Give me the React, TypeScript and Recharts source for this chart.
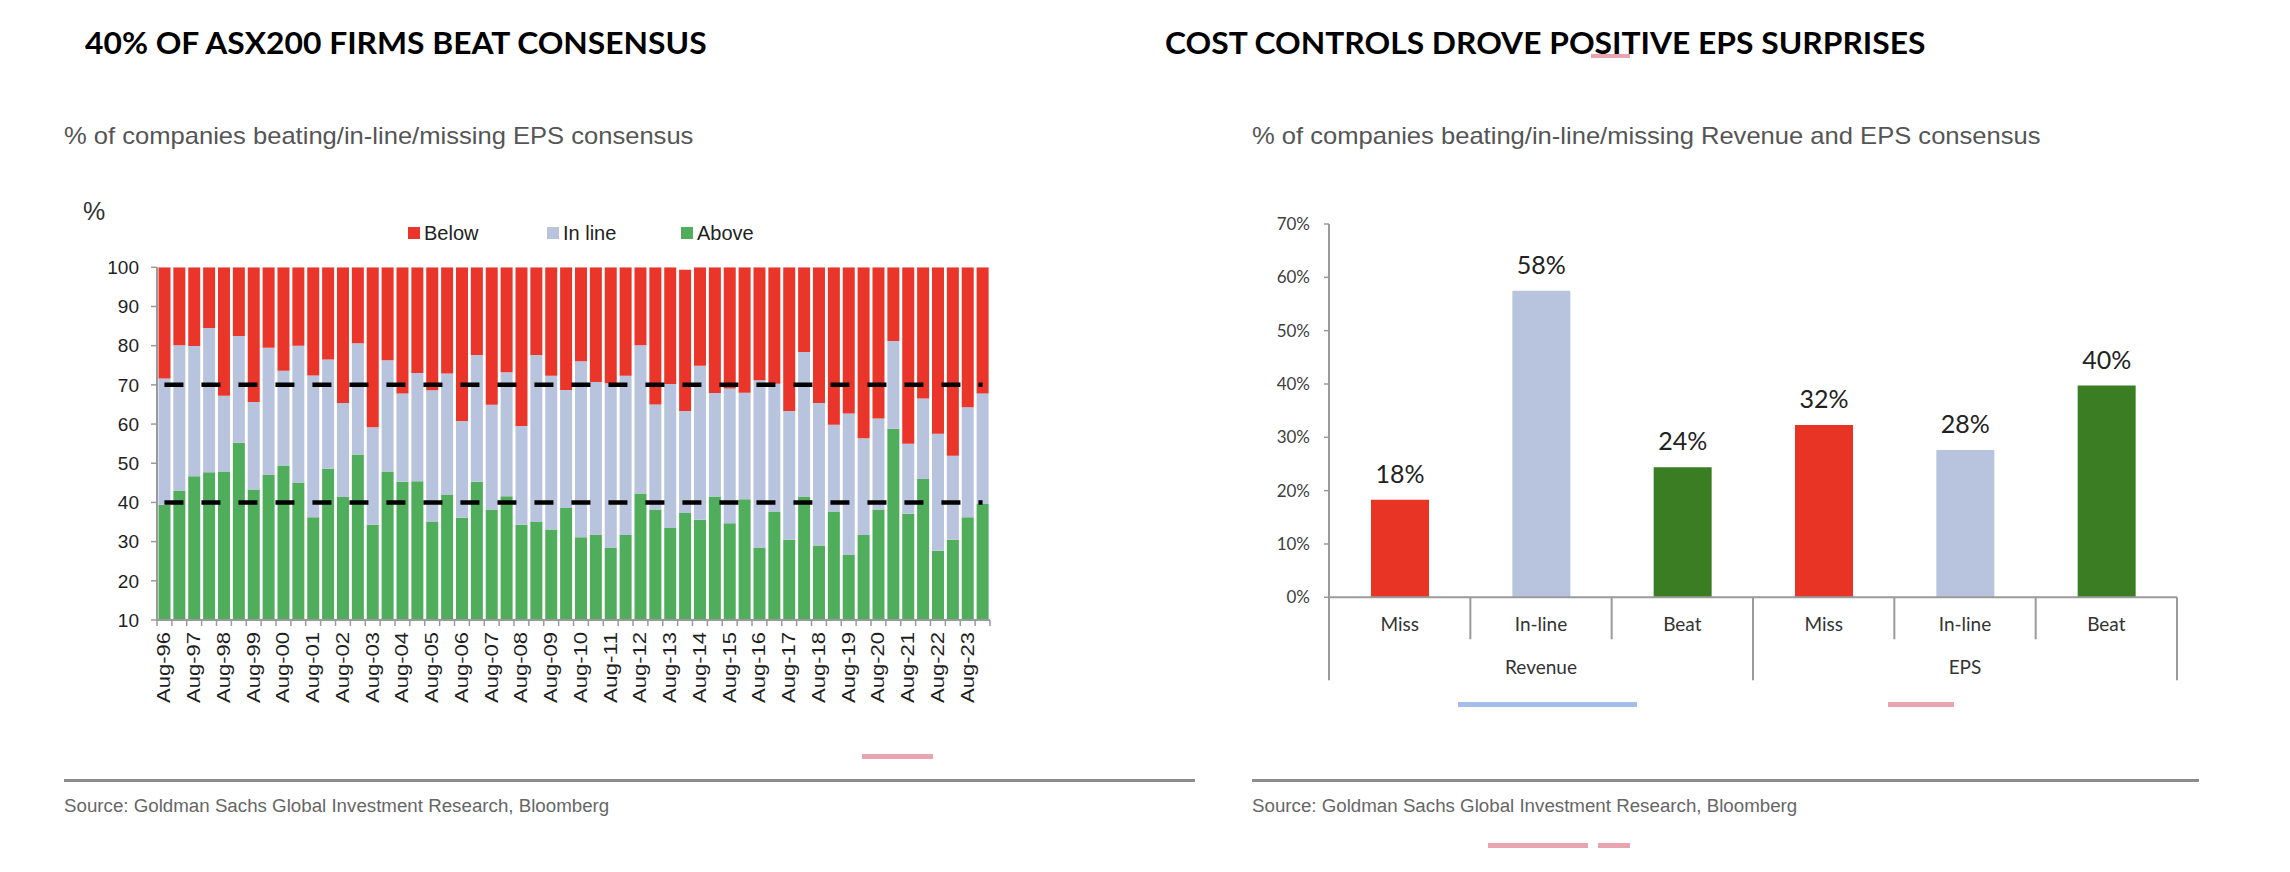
import React from "react";
import { BarChart, Bar, XAxis, YAxis, ReferenceLine, Cell, LabelList } from "recharts";

// reporting seasons, Aug-96 .. Feb-24
const periods = [
  "Aug-96", "Feb-97", "Aug-97", "Feb-98", "Aug-98", "Feb-99", "Aug-99", "Feb-00",
  "Aug-00", "Feb-01", "Aug-01", "Feb-02", "Aug-02", "Feb-03", "Aug-03", "Feb-04",
  "Aug-04", "Feb-05", "Aug-05", "Feb-06", "Aug-06", "Feb-07", "Aug-07", "Feb-08",
  "Aug-08", "Feb-09", "Aug-09", "Feb-10", "Aug-10", "Feb-11", "Aug-11", "Feb-12",
  "Aug-12", "Feb-13", "Aug-13", "Feb-14", "Aug-14", "Feb-15", "Aug-15", "Feb-16",
  "Aug-16", "Feb-17", "Aug-17", "Feb-18", "Aug-18", "Feb-19", "Aug-19", "Feb-20",
  "Aug-20", "Feb-21", "Aug-21", "Feb-22", "Aug-22", "Feb-23", "Aug-23", "Feb-24",
];

// % of companies above consensus
const aboveShare = [
  39.4, 42.9, 46.7, 47.7, 47.9, 55.2, 43.3, 47.0, 49.4, 45.1, 36.2, 48.6, 41.4, 52.2,
  34.3, 47.9, 45.3, 45.4, 35.0, 42.0, 36.1, 45.3, 38.2, 41.6, 34.3, 35.0, 33.1, 38.6,
  31.1, 31.7, 28.5, 31.7, 42.3, 38.2, 33.5, 37.3, 35.6, 41.5, 34.7, 40.8, 28.5, 37.7,
  30.5, 41.5, 29.0, 37.7, 26.6, 31.7, 38.2, 58.8, 37.1, 46.0, 27.7, 30.5, 36.2, 39.6,
];

// % in line with consensus
const inLineShare = [
  32.2, 37.2, 33.2, 36.8, 19.3, 27.3, 22.3, 32.5, 24.2, 34.9, 36.2, 27.9, 24.0, 28.4,
  24.9, 28.4, 22.5, 27.6, 33.6, 30.9, 24.7, 32.3, 26.7, 31.6, 25.2, 42.6, 39.2, 30.1,
  44.9, 39.0, 41.9, 40.6, 37.8, 26.8, 36.7, 26.0, 39.3, 26.4, 34.4, 27.2, 42.7, 32.6,
  32.8, 36.9, 36.4, 22.1, 36.1, 24.7, 23.2, 22.4, 17.9, 20.5, 29.8, 21.4, 28.1, 28.2,
];

// % below consensus
const belowShare = [
  28.4, 19.9, 20.1, 15.5, 32.8, 17.5, 34.4, 20.5, 26.4, 20.0, 27.6, 23.5, 34.6, 19.4,
  40.8, 23.7, 32.2, 27.0, 31.4, 27.1, 39.2, 22.4, 35.1, 26.8, 40.5, 22.4, 27.7, 31.3,
  24.0, 29.3, 29.6, 27.7, 19.9, 35.0, 29.8, 36.1, 25.1, 32.1, 30.9, 32.0, 28.8, 29.7,
  36.7, 21.6, 34.6, 40.2, 37.3, 43.6, 38.6, 18.8, 45.0, 33.5, 42.5, 48.1, 35.7, 32.2,
];

const leftTicks = [10, 20, 30, 40, 50, 60, 70, 80, 90, 100];
const consensusMarks = [40, 70];

// right chart
const surpriseGroups = ["Revenue", "EPS"];
const surpriseOutcomes = ["Miss", "In-line", "Beat"];
const revenueSurprise = [18.3, 57.5, 24.4];
const epsSurprise = [32.3, 27.6, 39.7];
const rightTicks = [0, 10, 20, 30, 40, 50, 60, 70];

const seasonRows = periods.map((p, i) => ({
  period: p,
  above: aboveShare[i],
  inLine: inLineShare[i],
  below: belowShare[i],
}));

const surpriseRows = surpriseGroups.flatMap((g, gi) =>
  surpriseOutcomes.map((o, oi) => ({
    key: `${g}-${o}`,
    group: g,
    outcome: o,
    share: (gi === 0 ? revenueSurprise : epsSurprise)[oi],
  }))
);

const RED = "#E9352A";
const BLUE = "#B8C4DD";
const GREEN = "#50AD5C";
const OUTCOME_COLORS = ["#E83424", "#B8C4DD", "#3A7D22"];
const AXIS_GREY = "#9a9a9a";
const ARIAL = "'Liberation Sans', Arial, sans-serif";
const CALIBRI = "Lato, 'Open Sans', sans-serif";

const LEFT_PLOT_W = 833;
const RIGHT_PLOT_W = 848;

// eslint-disable-next-line @typescript-eslint/no-explicit-any
const SeasonTick = (props: any) => {
  const { x, y, index } = props;
  const band = LEFT_PLOT_W / periods.length;
  const isLast = index === periods.length - 1;
  return (
    <g>
      <line x1={x - band / 2} x2={x - band / 2} y1={y} y2={y + 6} stroke={AXIS_GREY} strokeWidth={1.5} />
      {isLast && (
        <line x1={x + band / 2} x2={x + band / 2} y1={y} y2={y + 6} stroke={AXIS_GREY} strokeWidth={1.5} />
      )}
      {index % 2 === 0 && (
        <text
          x={0}
          y={0}
          transform={`translate(${x + 6},${y + 12}) rotate(-90)`}
          textAnchor="end"
          fontFamily={ARIAL}
          fontSize={19}
          fill="#1e1e1e"
          textLength={71}
          lengthAdjust="spacingAndGlyphs"
        >
          {periods[index]}
        </text>
      )}
    </g>
  );
};

// eslint-disable-next-line @typescript-eslint/no-explicit-any
const SurpriseTick = (props: any) => {
  const { x, y, index } = props;
  const band = RIGHT_PLOT_W / surpriseRows.length;
  const row = surpriseRows[index];
  const n = surpriseOutcomes.length;
  const startsGroup = index % n === 0;
  const isLast = index === surpriseRows.length - 1;
  return (
    <g>
      <line
        x1={x - band / 2}
        x2={x - band / 2}
        y1={y}
        y2={y + (startsGroup ? 83 : 42)}
        stroke={AXIS_GREY}
        strokeWidth={2}
      />
      {isLast && (
        <line x1={x + band / 2} x2={x + band / 2} y1={y} y2={y + 83} stroke={AXIS_GREY} strokeWidth={2} />
      )}
      <text x={x} y={y + 34} textAnchor="middle" fontFamily={CALIBRI} fontSize={19} fill="#333">
        {row.outcome}
      </text>
      {index % n === 1 && (
        <text x={x} y={y + 77} textAnchor="middle" fontFamily={CALIBRI} fontSize={19} fill="#333">
          {row.group}
        </text>
      )}
    </g>
  );
};

const abs = (left: number, top: number): React.CSSProperties => ({
  position: "absolute",
  left,
  top,
  whiteSpace: "nowrap",
});

const stretch = (k: number): React.CSSProperties => ({
  transform: `scaleX(${k})`,
  transformOrigin: "left",
});

const Mark = ({ x, y, w, h, color }: { x: number; y: number; w: number; h: number; color: string }) => (
  <div style={{ ...abs(x, y), width: w, height: h, background: color }} />
);

const legendItems = [
  { label: "Below", color: RED, x: 408 },
  { label: "In line", color: BLUE, x: 547 },
  { label: "Above", color: GREEN, x: 681 },
];

const titleStyle: React.CSSProperties = {
  fontFamily: CALIBRI,
  fontWeight: 700,
  fontSize: 30,
  lineHeight: 1,
  color: "#000",
  ...stretch(1.06),
};

const subtitleStyle: React.CSSProperties = {
  fontFamily: ARIAL,
  fontSize: 24,
  lineHeight: 1,
  color: "#555",
  ...stretch(1.065),
};

const sourceStyle: React.CSSProperties = {
  fontFamily: ARIAL,
  fontSize: 18,
  lineHeight: 1,
  color: "#666",
  ...stretch(1.04),
};

const App = () => {
  return (
    <div style={{ position: "absolute", left: 0, top: 0, width: 2290, height: 872, background: "#fff", overflow: "hidden" }}>
      {/* titles */}
      <div style={{ ...abs(85, 27), ...titleStyle }}>40% OF ASX200 FIRMS BEAT CONSENSUS</div>
      <div style={{ ...abs(1165, 27), ...titleStyle }}>COST CONTROLS DROVE POSITIVE EPS SURPRISES</div>
      <div style={{ ...abs(64, 124), ...subtitleStyle }}>
        % of companies beating/in-line/missing EPS consensus
      </div>
      <div style={{ ...abs(1252, 124), ...subtitleStyle }}>
        % of companies beating/in-line/missing Revenue and EPS consensus
      </div>

      {/* left chart */}
      <div style={{ ...abs(83, 199), fontFamily: ARIAL, fontSize: 25, lineHeight: 1, color: "#333" }}>%</div>
      {legendItems.map((it) => (
        <div key={it.label} style={{ ...abs(it.x, 222), display: "flex", alignItems: "center", fontFamily: ARIAL, fontSize: 20, lineHeight: "22px", color: "#222" }}>
          <span style={{ width: 12, height: 12, background: it.color, marginRight: 4, display: "inline-block" }} />
          {it.label}
        </div>
      ))}
      <div style={abs(0, 190)}>
        <BarChart
          width={1100}
          height={560}
          data={seasonRows}
          barCategoryGap="10%"
          margin={{ top: 77.3, right: 110, left: 97, bottom: 30 }}
        >
          <XAxis
            dataKey="period"
            interval={0}
            height={100}
            tickSize={0}
            tickMargin={0}
            tick={<SeasonTick />}
            axisLine={{ stroke: AXIS_GREY, strokeWidth: 2 }}
            tickLine={false}
          />
          <YAxis
            width={60}
            domain={[10, 100]}
            ticks={leftTicks}
            interval={0}
            allowDataOverflow
            tickSize={6}
            tickMargin={12}
            axisLine={{ stroke: AXIS_GREY, strokeWidth: 2 }}
            tickLine={{ stroke: AXIS_GREY, strokeWidth: 1.5 }}
            tick={{ fontFamily: ARIAL, fontSize: 19, fill: "#1e1e1e" }}
          />
          <Bar dataKey="above" stackId="s" fill={GREEN} isAnimationActive={false} />
          <Bar dataKey="inLine" stackId="s" fill={BLUE} isAnimationActive={false} />
          <Bar dataKey="below" stackId="s" fill={RED} isAnimationActive={false} />
          {consensusMarks.map((v) => (
            <ReferenceLine
              key={v}
              segment={[
                { x: periods[0], y: v },
                { x: periods[periods.length - 1], y: v },
              ]}
              stroke="#000"
              strokeWidth={4.5}
              strokeDasharray="19 18"
            />
          ))}
        </BarChart>
      </div>

      {/* right chart */}
      <div style={abs(1180, 190)}>
        <BarChart
          width={1060}
          height={520}
          data={surpriseRows}
          margin={{ top: 34, right: 63, left: 89, bottom: 10 }}
        >
          <XAxis
            dataKey="key"
            interval={0}
            height={102.7}
            tickSize={0}
            tickMargin={0}
            tick={<SurpriseTick />}
            axisLine={{ stroke: AXIS_GREY, strokeWidth: 2 }}
            tickLine={false}
          />
          <YAxis
            width={60}
            domain={[0, 70]}
            ticks={rightTicks}
            interval={0}
            tickSize={5}
            tickMargin={14}
            tickFormatter={(v: number) => `${v}%`}
            axisLine={{ stroke: AXIS_GREY, strokeWidth: 2 }}
            tickLine={{ stroke: AXIS_GREY, strokeWidth: 1.5 }}
            tick={{ fontFamily: CALIBRI, fontSize: 17, fill: "#404040" }}
          />
          <Bar dataKey="share" barSize={58} isAnimationActive={false}>
            {surpriseRows.map((r, i) => (
              <Cell key={r.key} fill={OUTCOME_COLORS[i % OUTCOME_COLORS.length]} />
            ))}
            <LabelList
              dataKey="share"
              position="top"
              offset={17}
              formatter={(v: number) => `${Math.round(v)}%`}
              style={{ fontFamily: CALIBRI, fontSize: 25, fill: "#222" }}
            />
          </Bar>
        </BarChart>
      </div>

      {/* footers */}
      <div style={{ ...abs(64, 779), width: 1131, height: 3, background: "#8c8c8c" }} />
      <div style={{ ...abs(1252, 779), width: 947, height: 3, background: "#8c8c8c" }} />
      <div style={{ ...abs(64, 797), ...sourceStyle }}>
        Source: Goldman Sachs Global Investment Research, Bloomberg
      </div>
      <div style={{ ...abs(1252, 797), ...sourceStyle }}>
        Source: Goldman Sachs Global Investment Research, Bloomberg
      </div>

      {/* stray annotation marks */}
      <Mark x={862} y={754} w={71} h={5} color="#E8A5B0" />
      <Mark x={1591} y={54} w={39} h={4} color="#E8A5B0" />
      <Mark x={1458} y={702} w={179} h={5} color="#A4BEEA" />
      <Mark x={1888} y={702} w={66} h={5} color="#E8A5B0" />
      <Mark x={1488} y={843} w={100} h={5} color="#E8A5B0" />
      <Mark x={1598} y={843} w={32} h={5} color="#E8A5B0" />
    </div>
  );
};

export default App;
